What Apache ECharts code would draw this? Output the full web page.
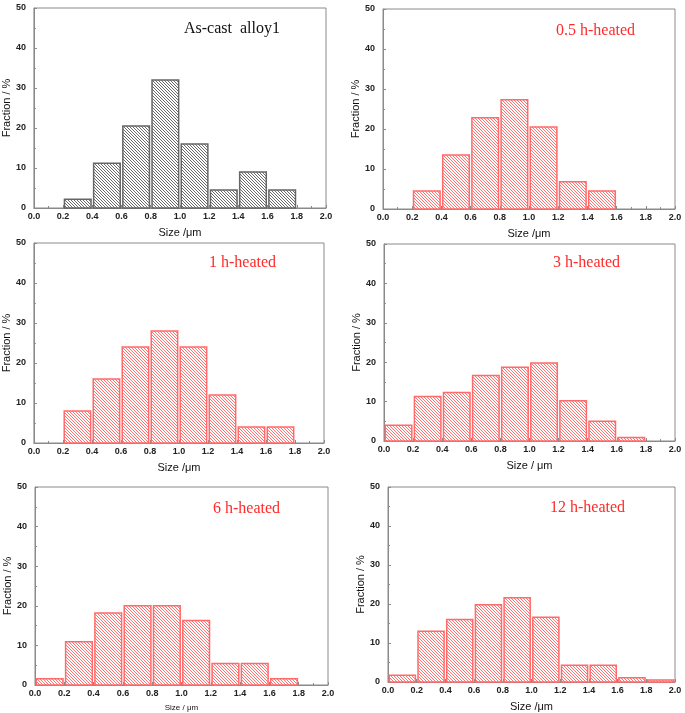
<!DOCTYPE html>
<html><head><meta charset="utf-8">
<script src="https://cdn.jsdelivr.net/npm/echarts@6/dist/echarts.min.js"></script>
<style>html,body{margin:0;padding:0;background:#fff}#c{width:685px;height:713px}</style>
</head><body><div id="c"></div>
<script>
// ---- data ----
const binStarts = [0.0, 0.2, 0.4, 0.6, 0.8, 1.0, 1.2, 1.4, 1.6, 1.8];
const binWidth = 0.2;
const asCast = [null, 2.2, 11.2, 20.5, 32.0, 16.0, 4.5, 9.0, 4.5, null];
const heated05 = [null, 4.5, 13.5, 22.8, 27.3, 20.5, 6.8, 4.5, null, null];
const heated1 = [null, 8.0, 16.0, 24.0, 28.0, 24.0, 12.0, 4.0, 4.0, null];
const heated3 = [4.0, 11.3, 12.3, 16.6, 18.7, 19.8, 10.2, 5.0, 0.9, null];
const heated6 = [1.6, 10.9, 18.2, 20.0, 20.0, 16.3, 5.4, 5.4, 1.6, null];
const heated12 = [1.7, 13.0, 16.0, 19.8, 21.6, 16.6, 4.3, 4.3, 1.1, 0.5];
const panelLabels = ['As-cast  alloy1', '0.5 h-heated', '1 h-heated', '3 h-heated', '6 h-heated', '12 h-heated'];
const xTickValues = [0.0, 0.2, 0.4, 0.6, 0.8, 1.0, 1.2, 1.4, 1.6, 1.8, 2.0];
const yTickValues = [0, 10, 20, 30, 40, 50];
const xNames = ['Size /\u03bcm', 'Size /\u03bcm', 'Size /\u03bcm', 'Size / \u03bcm', 'Size / \u03bcm', 'Size /\u03bcm'];
const yName = 'Fraction / %';

// ---- layout / style ----
const panels = [
  {vals: asCast, grid: {left: 32, top: 8, width: 294, height: 200}, lab: [184, 21], grey: true, xNameSize: 11},
  {vals: heated05, grid: {left: 383, top: 9, width: 292, height: 200}, lab: [556, 23], xNameSize: 11},
  {vals: heated1, grid: {left: 32, top: 243, width: 292, height: 200}, lab: [209, 255], xNameSize: 11},
  {vals: heated3, grid: {left: 384, top: 244, width: 291, height: 197}, lab: [553, 255], xNameSize: 11},
  {vals: heated6, grid: {left: 35, top: 487, width: 293, height: 201}, lab: [213, 501], xNameSize: 8},
  {vals: heated12, grid: {left: 388, top: 487, width: 287, height: 200}, lab: [550, 500], xNameSize: 11}
];

function makePattern(color) {
  const s = 3;
  const cv = document.createElement('canvas');
  cv.width = s; cv.height = s;
  const g = cv.getContext('2d');
  g.fillStyle = '#fff'; g.fillRect(0, 0, s, s);
  g.strokeStyle = color; g.lineWidth = 1;
  g.beginPath();
  g.moveTo(-1, -1); g.lineTo(s + 1, s + 1);
  g.moveTo(-1, s - 1); g.lineTo(1, s + 1);
  g.moveTo(s - 1, -1); g.lineTo(s + 1, 1);
  g.stroke();
  return {image: cv, repeat: 'repeat'};
}
const greyPat = makePattern('#6a6a6a');
const redPat = makePattern('#ff7272');

const frame = '#8a8a8a';
const tickFont = {fontFamily: 'Liberation Sans', fontSize: 9, color: '#222', fontWeight: 'bold'};

const grids = [], xAxes = [], yAxes = [], series = [], titles = [];
panels.forEach((p, i) => {
  grids.push(Object.assign({show: true, borderColor: frame, borderWidth: 1, backgroundColor: 'transparent'}, p.grid));
  xAxes.push({
    type: 'value', gridIndex: i, min: 0, max: 2, interval: 0.2,
    name: xNames[i], nameLocation: 'middle', nameGap: 19,
    nameTextStyle: {fontFamily: 'Liberation Sans', fontSize: p.xNameSize, color: '#111'},
    axisLine: {show: true, lineStyle: {color: frame, width: 1}},
    axisTick: {show: true, inside: true, length: 3, lineStyle: {color: frame}},
    minorTick: {show: true, splitNumber: 2, length: 2, lineStyle: {color: frame}},
    splitLine: {show: false},
    axisLabel: Object.assign({margin: 4, formatter: v => v.toFixed(1)}, tickFont)
  });
  yAxes.push({
    type: 'value', gridIndex: i, min: 0, max: 50, interval: 10,
    name: yName, nameLocation: 'middle', nameGap: 20,
    nameTextStyle: {fontFamily: 'Liberation Sans', fontSize: 11, color: '#111'},
    axisLine: {show: true, lineStyle: {color: frame, width: 1}},
    axisTick: {show: true, inside: true, length: 3, lineStyle: {color: frame}},
    minorTick: {show: true, splitNumber: 2, length: 2, lineStyle: {color: frame}},
    splitLine: {show: false},
    axisLabel: Object.assign({margin: 8}, tickFont)
  });
  const data = [];
  binStarts.forEach((b, k) => { if (p.vals[k] != null) data.push([b, b + binWidth, p.vals[k]]); });
  const pat = p.grey ? greyPat : redPat;
  const stroke = p.grey ? '#666' : '#ff6a6a';
  series.push({
    type: 'custom', xAxisIndex: i, yAxisIndex: i, data: data, silent: true,
    encode: {x: [0, 1], y: 2},
    renderItem: function (params, api) {
      const a = api.coord([api.value(0), api.value(2)]);
      const b = api.coord([api.value(1), 0]);
      const gap = 1.3;
      return {
        type: 'rect',
        shape: {x: a[0] + gap, y: a[1], width: b[0] - a[0] - 2 * gap, height: b[1] - a[1]},
        style: {fill: pat, stroke: stroke, lineWidth: 1.5}
      };
    }
  });
  titles.push({
    text: panelLabels[i], left: p.lab[0], top: p.lab[1], padding: 0,
    textStyle: {fontFamily: 'Liberation Serif', fontSize: 16, fontWeight: 'normal', color: p.grey ? '#111' : '#ff2a2a'}
  });
});

const chart = echarts.init(document.getElementById('c'), null, {renderer: 'canvas'});
chart.setOption({
  animation: false,
  backgroundColor: '#fff',
  title: titles,
  grid: grids,
  xAxis: xAxes,
  yAxis: yAxes,
  series: series
});
</script>
</body></html>
